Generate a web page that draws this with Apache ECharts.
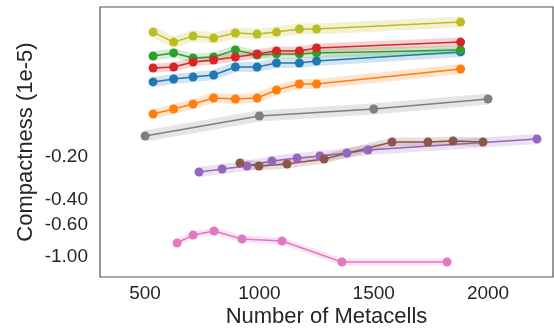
<!DOCTYPE html>
<html style="height: 100%">

<head>
    <meta charset="utf-8">
</head>

<body style="height: 100%; margin: 0; background: #fff">
    <div id="main" style="width: 554px; height: 331px"></div>
    <script src="https://cdn.jsdelivr.net/npm/echarts@6/dist/echarts.min.js"></script>
    <script type="text/javascript">

        // x values (number of metacells)
        var xMain = [535, 625, 710, 800, 895, 990, 1075, 1175, 1250, 1880];
        var xGray = [500, 1000, 1500, 2000];
        var xPurple = [736, 837, 946, 1055, 1165, 1265, 1383, 1475, 2214];
        var xBrown = [915, 998, 1121, 1283, 1580, 1737, 1847, 1978];
        var xPink = [640, 710, 802, 924, 1099, 1361, 1821];

        // compactness values (1e-5), y axis is log of |value|
        var blueVals = [-0.0598, -0.0570, -0.0552, -0.0535, -0.0470, -0.0470, -0.0441, -0.0441, -0.0427, -0.0369];
        var orangeVals = [-0.1002, -0.0925, -0.0853, -0.0774, -0.0787, -0.0774, -0.0681, -0.0618, -0.0618, -0.0486];
        var greenVals = [-0.0394, -0.0375, -0.0407, -0.0400, -0.0357, -0.0388, -0.0381, -0.0381, -0.0375, -0.0357];
        var redVals = [-0.0478, -0.0470, -0.0434, -0.0420, -0.0400, -0.0381, -0.0363, -0.0363, -0.0346, -0.0315];
        var purpleVals = [-0.2547, -0.2427, -0.2313, -0.2134, -0.2033, -0.1968, -0.1876, -0.1788, -0.1497];
        var brownVals = [-0.2204, -0.2313, -0.2239, -0.2066, -0.1572, -0.1572, -0.1546, -0.1572];
        var pinkVals = [-0.798, -0.702, -0.658, -0.749, -0.773, -1.084, -1.084];
        var grayVals = [-0.1427, -0.1034, -0.0925, -0.0787];
        var oliveVals = [-0.0268, -0.0315, -0.0286, -0.0295, -0.0272, -0.0277, -0.0268, -0.0255, -0.0255, -0.0228];

        var yTicks = [-0.2, -0.4, -0.6, -1.0];
        var xTicks = [500, 1000, 1500, 2000];

        function toAxis(v) {
            return Math.log10(-v);
        }

        var groups = [
            { name: 'blue', color: '#1f77b4', x: xMain, y: blueVals, band: 10 },
            { name: 'orange', color: '#ff7f0e', x: xMain, y: orangeVals, band: 10 },
            { name: 'green', color: '#2ca02c', x: xMain, y: greenVals, band: 9 },
            { name: 'red', color: '#d62728', x: xMain, y: redVals, band: 9 },
            { name: 'purple', color: '#9467bd', x: xPurple, y: purpleVals, band: 10 },
            { name: 'brown', color: '#8c564b', x: xBrown, y: brownVals, band: 9 },
            { name: 'pink', color: '#e377c2', x: xPink, y: pinkVals, band: 7 },
            { name: 'gray', color: '#7f7f7f', x: xGray, y: grayVals, band: 11 },
            { name: 'olive', color: '#bcbd22', x: xMain, y: oliveVals, band: 11 }
        ];

        var series = [];
        groups.forEach(function (g) {
            var data = g.x.map(function (x, i) {
                return [x, toAxis(g.y[i])];
            });
            // confidence band look
            series.push({
                type: 'line',
                name: g.name + '-band',
                data: data,
                symbol: 'none',
                silent: true,
                lineStyle: { color: g.color, width: g.band, opacity: 0.2, cap: 'butt', join: 'round' }
            });
            series.push({
                type: 'line',
                name: g.name,
                data: data,
                symbol: 'circle',
                symbolSize: 9,
                showAllSymbol: true,
                lineStyle: { color: g.color, width: 1.5 },
                itemStyle: { color: g.color }
            });
        });

        var chartDom = document.getElementById('main');
        var myChart = echarts.init(chartDom);

        var labelFont = { fontFamily: 'Liberation Sans', fontSize: 19, color: '#262626' };
        var nameFont = { fontFamily: 'Liberation Sans', fontSize: 22, color: '#262626' };

        myChart.setOption({
            animation: false,
            grid: {
                left: 100,
                top: 7,
                right: 1,
                bottom: 54,
                outerBoundsMode: 'none',
                containLabel: false,
                show: true,
                borderColor: '#555',
                borderWidth: 1.2
            },
            xAxis: {
                type: 'value',
                min: 303,
                max: 2284,
                name: 'Number of Metacells',
                nameLocation: 'middle',
                nameGap: 29,
                nameMoveOverlap: false,
                nameTextStyle: nameFont,
                axisLine: { show: false },
                axisTick: { show: false },
                splitLine: { show: false },
                axisLabel: Object.assign({
                    customValues: xTicks,
                    margin: 7,
                    formatter: function (v) { return String(v); }
                }, labelFont)
            },
            yAxis: {
                type: 'value',
                inverse: true,
                min: -1.747,
                max: 0.14,
                name: 'Compactness (1e-5)',
                nameLocation: 'middle',
                nameGap: 63,
                nameMoveOverlap: false,
                nameTextStyle: nameFont,
                axisLine: { show: false },
                axisTick: { show: false },
                splitLine: { show: false },
                axisLabel: Object.assign({
                    customValues: yTicks.map(toAxis),
                    margin: 12,
                    formatter: function (t) {
                        return '-' + Math.pow(10, t).toFixed(2);
                    }
                }, labelFont)
            },
            series: series
        });

    </script>
</body>

</html>
